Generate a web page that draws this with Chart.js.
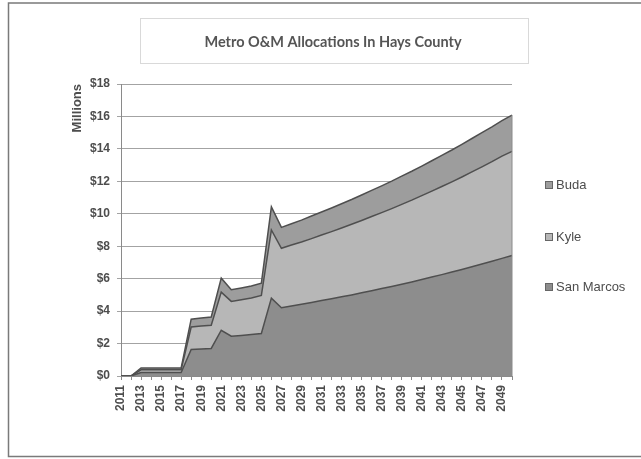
<!DOCTYPE html>
<html>
<head>
<meta charset="utf-8">
<title>Metro O&amp;M Allocations In Hays County</title>
<script src="https://cdn.jsdelivr.net/npm/chart.js@4/dist/chart.umd.min.js"></script>
<style>
  html, body { margin: 0; padding: 0; background: #ffffff; }
  canvas { display: block; }
</style>
</head>
<body>
<canvas id="chart" width="641" height="459"></canvas>
<script>
// Fiscal years on the category axis
const years = [
  2011, 2012, 2013, 2014, 2015, 2016, 2017, 2018, 2019, 2020,
  2021, 2022, 2023, 2024, 2025, 2026, 2027, 2028, 2029, 2030,
  2031, 2032, 2033, 2034, 2035, 2036, 2037, 2038, 2039, 2040,
  2041, 2042, 2043, 2044, 2045, 2046, 2047, 2048, 2049, 2050
];

// O&M allocation per city, $ millions (stacked)
const sanMarcos = [
  0, 0, 0.22, 0.22, 0.22, 0.22, 0.22, 1.63, 1.67, 1.70,
  2.82, 2.45, 2.50, 2.56, 2.62, 4.80, 4.21, 4.32, 4.42, 4.53,
  4.65, 4.76, 4.88, 5.00, 5.13, 5.26, 5.39, 5.52, 5.66, 5.80,
  5.95, 6.10, 6.25, 6.41, 6.57, 6.73, 6.90, 7.07, 7.25, 7.43
];
const kyle = [
  0, 0, 0.16, 0.16, 0.16, 0.16, 0.16, 1.39, 1.41, 1.43,
  2.35, 2.15, 2.20, 2.25, 2.35, 4.20, 3.66, 3.75, 3.84, 3.94,
  4.04, 4.14, 4.24, 4.35, 4.46, 4.57, 4.68, 4.80, 4.92, 5.04,
  5.17, 5.30, 5.43, 5.56, 5.70, 5.85, 5.99, 6.14, 6.30, 6.42
];
const buda = [
  0, 0, 0.12, 0.12, 0.12, 0.12, 0.12, 0.48, 0.49, 0.51,
  0.86, 0.72, 0.73, 0.74, 0.75, 1.43, 1.29, 1.32, 1.35, 1.39,
  1.42, 1.46, 1.50, 1.53, 1.57, 1.61, 1.65, 1.69, 1.74, 1.78,
  1.82, 1.87, 1.92, 1.96, 2.01, 2.06, 2.11, 2.15, 2.19, 2.23
];

// Value axis ticks ($ millions)
const yTicks = [0, 2, 4, 6, 8, 10, 12, 14, 16, 18];

const chartTitle = 'Metro O&M Allocations In Hays County';
const axisTitle = 'Millions';
const seriesNames = ['San Marcos', 'Kyle', 'Buda'];
const seriesColors = ['#8d8d8d', '#b7b7b7', '#9d9d9d'];

const textColor = '#4d4d4d';
const edgeColor = '#4f4f4f';

// Frame, title box and white background
const framePlugin = {
  id: 'frame',
  beforeDraw(chart) {
    const ctx = chart.ctx;
    ctx.save();
    ctx.fillStyle = '#ffffff';
    ctx.fillRect(0, 0, chart.width, chart.height);
    // outer chart border
    ctx.strokeStyle = '#7a7a7a';
    ctx.lineWidth = 1.5;
    ctx.strokeRect(8.5, 3, chart.width + 10, chart.height - 5.5);
    // title box
    ctx.strokeStyle = '#d9d9d9';
    ctx.lineWidth = 1;
    ctx.strokeRect(140.5, 18.5, 388, 45);
    ctx.fillStyle = '#555555';
    ctx.font = 'bold 14.5px Lato, "Open Sans", sans-serif';
    ctx.textAlign = 'center';
    ctx.textBaseline = 'middle';
    ctx.fillText(chartTitle, 333, 42);
    ctx.restore();
  },
  afterDatasetsDraw(chart) {
    // close the stack with a vertical edge at the last year
    const ctx = chart.ctx;
    const top = chart.getDatasetMeta(chart.data.datasets.length - 1).data;
    const last = top[top.length - 1];
    const yZero = chart.scales.y.getPixelForValue(0);
    ctx.save();
    ctx.strokeStyle = '#8a8a8a';
    ctx.lineWidth = 1;
    ctx.beginPath();
    ctx.moveTo(last.x, last.y);
    ctx.lineTo(last.x, yZero);
    ctx.stroke();
    ctx.restore();
  },
  afterDraw(chart) {
    // legend, top series first
    const ctx = chart.ctx;
    const ds = chart.data.datasets;
    const rows = [185, 237, 287];
    ctx.save();
    ctx.font = '13px Arial, "Liberation Sans", sans-serif';
    ctx.textBaseline = 'middle';
    ctx.textAlign = 'left';
    for (let i = 0; i < ds.length; i++) {
      const d = ds[ds.length - 1 - i];
      const y = rows[i];
      ctx.fillStyle = d.backgroundColor;
      ctx.fillRect(545.5, y - 3.5, 7, 7);
      ctx.strokeStyle = '#666666';
      ctx.lineWidth = 1;
      ctx.strokeRect(545.5, y - 3.5, 7, 7);
      ctx.fillStyle = textColor;
      ctx.fillText(d.label, 556, y + 0.5);
    }
    ctx.restore();
  }
};

const series = [sanMarcos, kyle, buda];

new Chart(document.getElementById('chart'), {
  type: 'line',
  data: {
    labels: years.map(String),
    datasets: series.map((values, i) => ({
      label: seriesNames[i],
      data: values,
      backgroundColor: seriesColors[i],
      borderColor: edgeColor,
      borderWidth: 1.5,
      fill: i === 0 ? 'origin' : '-1',
      pointRadius: 0,
      tension: 0
    }))
  },
  options: {
    responsive: false,
    animation: false,
    devicePixelRatio: 1,
    layout: { padding: { top: 84, right: 129, bottom: 0, left: 0 } },
    plugins: {
      legend: { display: false },
      tooltip: { enabled: false },
      title: { display: false }
    },
    scales: {
      x: {
        type: 'category',
        offset: false,
        grid: {
          display: true,
          drawOnChartArea: false,
          drawTicks: true,
          tickLength: 4,
          color: '#8a8a8a'
        },
        border: { display: true, color: '#8a8a8a', width: 1 },
        ticks: {
          autoSkip: false,
          maxRotation: 90,
          minRotation: 90,
          padding: 5,
          color: textColor,
          font: { family: 'Arial, "Liberation Sans", sans-serif', size: 12, weight: 'bold' },
          callback(value, index) {
            return index % 2 === 0 ? this.getLabelForValue(value) : '';
          }
        },
        afterFit(scale) { scale.height = 83; }
      },
      y: {
        stacked: true,
        min: yTicks[0],
        max: yTicks[yTicks.length - 1],
        afterBuildTicks(scale) {
          scale.ticks = yTicks.map(v => ({ value: v }));
        },
        grid: {
          color: '#a3a3a3',
          lineWidth: 1,
          drawTicks: true,
          tickLength: 4
        },
        border: { display: true, color: '#8a8a8a', width: 1 },
        ticks: {
          padding: 7,
          color: textColor,
          font: { family: 'Arial, "Liberation Sans", sans-serif', size: 12, weight: 'bold' },
          callback(value) { return '$' + value; }
        },
        title: {
          display: true,
          text: axisTitle,
          align: 'end',
          color: textColor,
          font: { family: 'Arial, "Liberation Sans", sans-serif', size: 13, weight: 'bold' },
          padding: { top: 70, bottom: 0 }
        },
        afterFit(scale) { scale.width = 121; }
      }
    }
  },
  plugins: [framePlugin]
});
</script>
</body>
</html>
